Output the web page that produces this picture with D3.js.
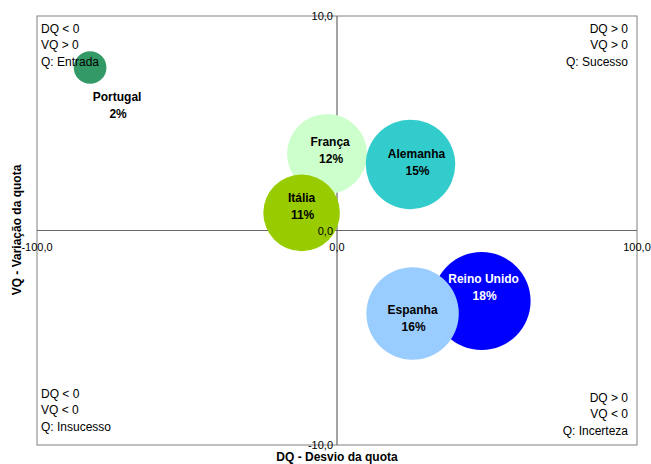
<!DOCTYPE html>
<html><head><meta charset="utf-8">
<script src="https://cdn.jsdelivr.net/npm/d3@7"></script>
<style>body{margin:0;background:#fff;font-family:"Liberation Sans",Arial,sans-serif}</style>
</head><body><svg id="c" width="651" height="464"></svg>
<script>
const countries = ["Portugal","França","Alemanha","Itália","Reino Unido","Espanha"];
const dq = [-82.3,-3.3,24.5,-11.8,48.2,25.2];
const vq = [7.6,3.57,3.08,0.82,-3.29,-3.87];
const share = [2,12,15,11,18,16];
const colors = ["#339966","#CCFFCC","#33CCCC","#99CC00","#0000FF","#99CCFF"];
const labelColors = ["#000","#000","#000","#000","#fff","#000"];
const xTicks = [-100,0,100];
const yTicks = [-10,0,10];
const quadrants = [
  {lines:["DQ < 0","VQ > 0","Q: Entrada"], pos:"tl"},
  {lines:["DQ > 0","VQ > 0","Q: Sucesso"], pos:"tr"},
  {lines:["DQ < 0","VQ < 0","Q: Insucesso"], pos:"bl"},
  {lines:["DQ > 0","VQ < 0","Q: Incerteza"], pos:"br"}
];

const svg = d3.select("#c");
const L=37,R=637,T=16,B=445;
const x = d3.scaleLinear().domain([-100,100]).range([L,R]);
const y = d3.scaleLinear().domain([-10,10]).range([B,T]);
const r = d3.scaleSqrt().domain([0,18]).range([0,49]);
const fmt = v => d3.format(".1f")(v).replace(".",",").replace("−","-");

svg.append("rect").attr("x",L).attr("y",T).attr("width",R-L).attr("height",B-T)
  .attr("fill","none").attr("stroke","#808080").attr("stroke-width",1);

// zero lines
svg.append("line").attr("x1",L).attr("x2",R).attr("y1",y(0)).attr("y2",y(0)).attr("stroke","#666").attr("stroke-width",1.2);
svg.append("line").attr("x1",x(0)).attr("x2",x(0)).attr("y1",T).attr("y2",B).attr("stroke","#666").attr("stroke-width",1.2);

// bubbles
const data = countries.map((c,i)=>({c,x:dq[i],y:vq[i],s:share[i],col:colors[i],lc:labelColors[i]}));
svg.append("g").selectAll("circle").data(data).join("circle")
  .attr("cx",d=>x(d.x)).attr("cy",d=>y(d.y)).attr("r",d=>r(d.s)).attr("fill",d=>d.col);

// quadrant texts
const qg = svg.append("g").attr("font-size",12).attr("fill","#000");
quadrants.forEach(q=>{
  const right = q.pos[1]==="r";
  const top = q.pos[0]==="t";
  const tx = right ? 628 : 41;
  const y0 = top ? 33 : (right ? 402 : 398);
  q.lines.forEach((s,i)=>{
    qg.append("text").attr("x",tx).attr("y",y0+i*16.3).attr("text-anchor",right?"end":"start").text(s);
  });
});

// axis tick labels
const tg = svg.append("g").attr("font-size",11).attr("fill","#000");
yTicks.forEach(v=>{
  tg.append("text").attr("x",x(0)-4).attr("y",y(v)+4).attr("text-anchor","end").text(fmt(v));
});
xTicks.forEach(v=>{
  tg.append("text").attr("x",x(v)).attr("y",y(0)+20).attr("text-anchor","middle").text(fmt(v));
});

// bubble labels
const lg = svg.append("g").attr("font-size",12).attr("font-weight","bold").attr("text-anchor","middle");
const offs = [[27,38],[3,-4],[6,-2],[0,-7],[2,-14],[0,4]];
data.forEach((d,i)=>{
  const cx = x(d.x), cy = y(d.y);
  const [dx,dy] = offs[i];
  lg.append("text").attr("x",cx+dx).attr("y",cy+dy-4).attr("fill",d.lc).text(d.c);
  lg.append("text").attr("x",cx+dx+1).attr("y",cy+dy+13).attr("fill",d.lc).text(d.s+"%");
});

// axis titles
svg.append("text").attr("x",337).attr("y",461).attr("text-anchor","middle").attr("font-size",12).attr("font-weight","bold").text("DQ - Desvio da quota");
svg.append("text").attr("transform","translate(21,230) rotate(-90)").attr("text-anchor","middle").attr("font-size",12).attr("font-weight","bold").text("VQ - Variação da quota");
</script></body></html>
